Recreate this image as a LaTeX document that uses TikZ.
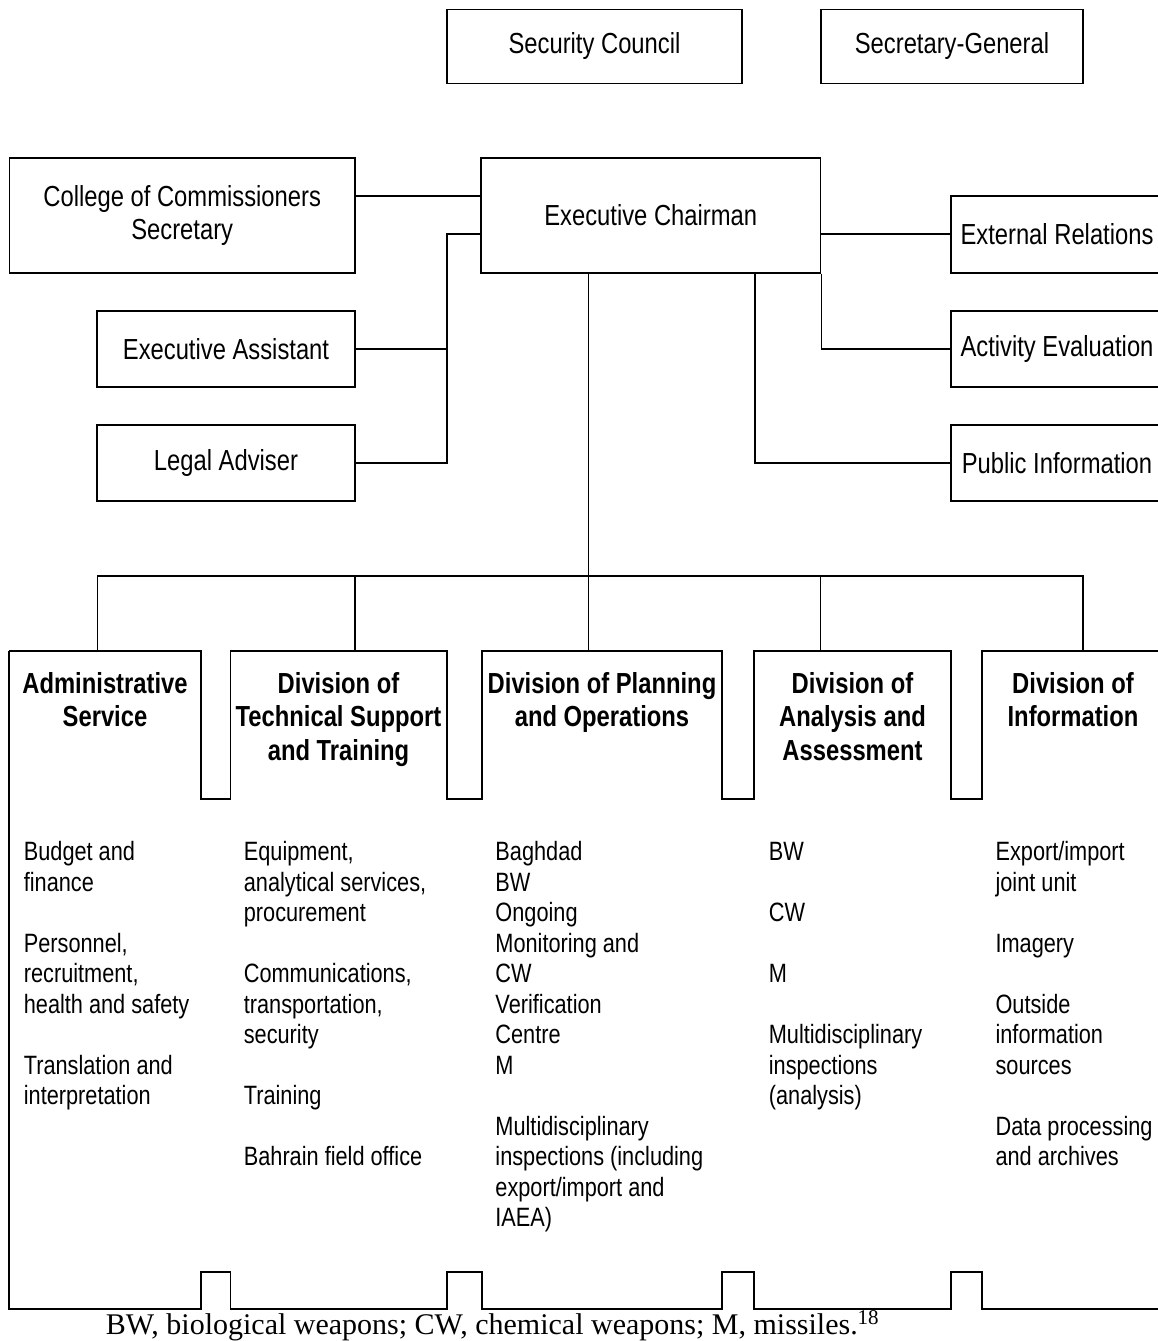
\documentclass[tikz,border=0pt]{standalone}
\usepackage{fontspec}
\setmainfont{Liberation Sans}[FakeStretch=0.82]
\newfontfamily\notefont{Liberation Serif}
\newcommand\headtext[1]{\parbox[t]{240pt}{\centering\bfseries\fontsize{29}{33.5}\selectfont #1}}
\newcommand\coltext[1]{\parbox[t]{240pt}{\raggedright\fontsize{26.5}{30.5}\selectfont #1}}
\begin{document}
\begin{tikzpicture}[x=1pt,y=-1pt,line width=1.7pt,
  box/.style={draw,line width=1.7pt,inner sep=0pt,align=center,font=\fontsize{29}{33.5}\selectfont},
  head/.style={inner sep=0pt,anchor=base},
  col/.style={inner sep=0pt,anchor=base west}]
\fill[white,use as bounding box] (0,0) rectangle (1158,1341);
\clip (0,0) rectangle (1158,1341);
% top boxes
\node[box,minimum width=295pt,minimum height=74pt] (sc) at (594.5,46.5) {Security Council};
\node[box,minimum width=262pt,minimum height=74pt] (sg) at (952,46.5) {Secretary-General};
\node[box,minimum width=345.5pt,minimum height=114.7pt] (coll) at (182.2,215.3) {College of Commissioners\\Secretary};
\node[box,minimum width=339.5pt,minimum height=114.7pt] (exec) at (650.75,215.3) {Executive Chairman};
\node[box,minimum width=258pt,minimum height=75.7pt] (ea) at (226,348.8) {Executive Assistant};
\node[box,minimum width=258pt,minimum height=75.7pt] (la) at (226,462.8) {Legal Adviser};
\node[box,minimum width=212.6pt,minimum height=77pt] (er) at (1057,234.2) {External Relations};
\node[box,minimum width=212.6pt,minimum height=75.7pt] (ae) at (1057,348.8) {Activity Evaluation};
\node[box,minimum width=212.6pt,minimum height=75.7pt] (pi) at (1057,462.8) {Public Information};
% helper coordinates
\coordinate (c1) at (0,195.7);
\coordinate (lb) at (447,234);
\coordinate (pv) at (755,0);
\coordinate (bus) at (0,575.7);
\coordinate (d1) at (97.5,651);
\coordinate (d2) at (355,651);
\coordinate (d3) at (588.6,651);
\coordinate (d4) at (820.5,651);
\coordinate (d5) at (1083.3,651);
% connectors
\draw (coll.east |- c1) -- (exec.west |- c1);
\draw (exec.west |- lb) -- (lb) |- (la.east);
\draw (ea.east) -- (ea.east -| lb);
\draw (exec.east |- er.west) -- (er.west);
\draw (exec.south east) |- (ae.west);
\draw (exec.south -| pv) |- (pi.west);
\draw (exec.south -| d3) -- (d3);
\draw (d1) -- (d1 |- bus) -- (d5 |- bus) -- (d5);
\draw (d2 |- bus) -- (d2);
\draw (d4 |- bus) -- (d4);
% division outline
\draw (9.3,651) -- (201,651) -- (201,799) -- (230.5,799) -- (230.5,651) -- (447,651) -- (447,799) -- (482,799) -- (482,651)
  -- (722,651) -- (722,799) -- (754,799) -- (754,651) -- (951,651) -- (951,799) -- (982,799) -- (982,651) -- (1175,651);
\draw (9.3,651) -- (9.3,1309.3) -- (201,1309.3) -- (201,1271.7) -- (230.5,1271.7) -- (230.5,1309.3) -- (447,1309.3) -- (447,1271.7)
  -- (482,1271.7) -- (482,1309.3) -- (722,1309.3) -- (722,1271.7) -- (754,1271.7) -- (754,1309.3) -- (951,1309.3) -- (951,1271.7)
  -- (982,1271.7) -- (982,1309.3) -- (1175,1309.3);
% division headings
\node[head] (h1) at (105,693.3) {\headtext{Administrative\\Service}};
\node[head] (h2) at (338.5,693.3) {\headtext{Division of\\Technical Support\\and Training}};
\node[head] (h3) at (602,693.3) {\headtext{Division of Planning\\and Operations}};
\node[head] (h4) at (852.5,693.3) {\headtext{Division of\\Analysis and\\Assessment}};
\node[head] (h5) at (1073,693.3) {\headtext{Division of\\Information}};
% column texts
\node[col] (t1) at (23,860.7) {\coltext{Budget and\\finance\\[30.5pt]Personnel,\\recruitment,\\health and safety\\[30.5pt]Translation and\\interpretation}};
\node[col] (t2) at (243,860.7) {\coltext{Equipment,\\analytical services,\\procurement\\[30.5pt]Communications,\\transportation,\\security\\[30.5pt]Training\\[30.5pt]Bahrain field office}};
\node[col] (t3) at (494.6,860.7) {\coltext{Baghdad\\BW\\Ongoing\\Monitoring and\\CW\\Verification\\Centre\\M\\[30.5pt]Multidisciplinary\\inspections (including\\export/import and\\IAEA)}};
\node[col] (t4) at (768,860.7) {\coltext{BW\\[30.5pt]CW\\[30.5pt]M\\[30.5pt]Multidisciplinary\\inspections\\(analysis)}};
\node[col] (t5) at (994.7,860.7) {\coltext{Export/import\\joint unit\\[30.5pt]Imagery\\[30.5pt]Outside\\information\\sources\\[30.5pt]Data processing\\and archives}};
% footnote
\node[col,font=\notefont\fontsize{30}{32}\selectfont] (fn) at (105,1334) {BW, biological weapons; CW, chemical weapons; M, missiles.\textsuperscript{18}};
\end{tikzpicture}
\end{document}
